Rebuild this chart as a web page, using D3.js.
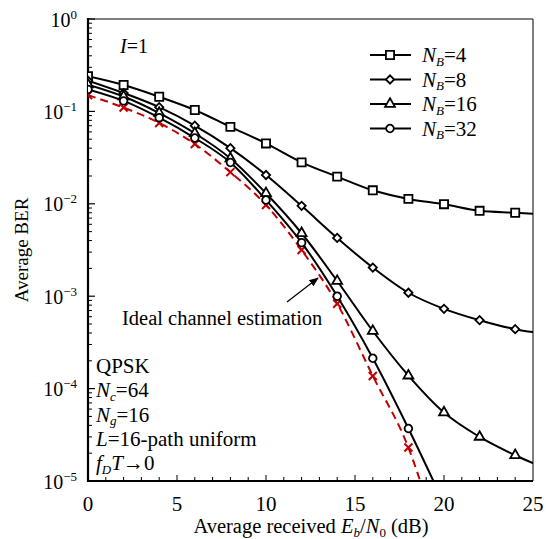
<!DOCTYPE html>
<html>
<head>
<meta charset="utf-8">
<script src="https://cdn.jsdelivr.net/npm/d3@7"></script>
<style>
  body { margin: 0; background: #fff; }
  svg text { font-family: "Liberation Serif", "Times New Roman", serif; fill: #000; }
</style>
</head>
<body>
<div id="chart"></div>
<script>
// Eb/N0 (dB) sample points
const snr = [0, 2, 4, 6, 8, 10, 12, 14, 16, 18, 20, 22, 24, 26];

// average BER per pilot spacing N_B
const nb4  = [0.24, 0.193, 0.144, 0.1035, 0.068, 0.045, 0.0281, 0.0197, 0.014, 0.0113, 0.0099, 0.0084, 0.0080, 0.0076];
const nb8  = [0.215, 0.158, 0.111, 0.070, 0.040, 0.0205, 0.0095, 0.00427, 0.00204, 0.00109, 0.00073, 0.00055, 0.00044, 0.000386];
const nb16 = [0.195, 0.145, 0.096, 0.058, 0.031, 0.013, 0.0048, 0.00146, 0.00042, 0.000138, 0.000055, 0.000030, 0.000019, 0.000013];
const nb32 = [0.173, 0.13, 0.0855, 0.0515, 0.028, 0.011, 0.0038, 0.001, 0.000213, 0.000037, 0.0000057];
const ideal = [0.15, 0.11, 0.075, 0.0444, 0.022, 0.0097, 0.00316, 0.00083, 0.000137, 0.000023, 0.0000014];

const seriesNames = ["4", "8", "16", "32"];
const xTicks = [0, 5, 10, 15, 20, 25];
const yExp = [0, -1, -2, -3, -4, -5];
const infoLines = ["QPSK", "Nc=64", "Ng=16", "L=16-path uniform", "fDT→0"];

const W = 546, H = 539;
const pLeft = 88, pRight = 533, pTop = 19, pBottom = 481;
const fs = 21, subFs = 13, subDy = 3.5;

const svg = d3.select("#chart").append("svg")
  .attr("width", W).attr("height", H);

const x = d3.scaleLinear().domain([0, 25]).range([pLeft, pRight]);
const y = d3.scaleLog().domain([1e-5, 1]).range([pBottom, pTop]);

const defs = svg.append("defs");
defs.append("clipPath").attr("id", "plot")
  .append("rect").attr("x", pLeft).attr("y", pTop)
  .attr("width", pRight - pLeft).attr("height", pBottom - pTop);

// frame: top/right grey, left/bottom black
svg.append("line").attr("x1", pLeft).attr("x2", pRight).attr("y1", pTop).attr("y2", pTop)
  .attr("stroke", "#555").attr("stroke-width", 1.5);
svg.append("line").attr("x1", pRight).attr("x2", pRight).attr("y1", pTop).attr("y2", pBottom)
  .attr("stroke", "#555").attr("stroke-width", 1.5);

// minor y ticks
let minorY = [];
for (let e = -5; e < 0; e++) for (let k = 2; k <= 9; k++) minorY.push(k * Math.pow(10, e));
svg.append("g").selectAll("line").data(minorY).enter().append("line")
  .attr("x1", pLeft).attr("x2", pLeft + 4)
  .attr("y1", d => y(d)).attr("y2", d => y(d))
  .attr("stroke", "#000").attr("stroke-width", 1);
svg.append("g").selectAll("line").data(yExp).enter().append("line")
  .attr("x1", pLeft).attr("x2", pLeft + 7)
  .attr("y1", d => y(Math.pow(10, d))).attr("y2", d => y(Math.pow(10, d)))
  .attr("stroke", "#000").attr("stroke-width", 1.2);

// x ticks every 1 dB
const xMinor = d3.range(1, 25);
svg.append("g").selectAll("line").data(xMinor).enter().append("line")
  .attr("x1", d => x(d)).attr("x2", d => x(d))
  .attr("y1", pBottom).attr("y2", d => d % 5 === 0 ? pBottom - 6 : pBottom - 4)
  .attr("stroke", "#000").attr("stroke-width", 1);

svg.append("line").attr("x1", pLeft).attr("x2", pLeft).attr("y1", pTop - 1).attr("y2", pBottom + 1)
  .attr("stroke", "#000").attr("stroke-width", 2.2);
svg.append("line").attr("x1", pLeft - 1).attr("x2", pRight).attr("y1", pBottom).attr("y2", pBottom)
  .attr("stroke", "#000").attr("stroke-width", 2.2);

// y labels 10^n
const yl = svg.append("g").selectAll("text").data(yExp).enter().append("text")
  .attr("x", pLeft - 11).attr("y", d => y(Math.pow(10, d)) + 7.5)
  .attr("text-anchor", "end").style("font-size", "20px");
yl.append("tspan").text("10");
yl.append("tspan").attr("dy", -8).style("font-size", "13px")
  .text(d => d === 0 ? "0" : "−" + (-d));

svg.append("g").selectAll("text").data(xTicks).enter().append("text")
  .attr("x", d => x(d)).attr("y", pBottom + 30)
  .attr("text-anchor", "middle").style("font-size", fs + "px")
  .text(d => d);

// axis titles
const xt = svg.append("text").attr("x", 311).attr("y", 533)
  .attr("text-anchor", "middle").style("font-size", "20.5px");
xt.append("tspan").text("Average received ");
xt.append("tspan").style("font-style", "italic").text("E");
xt.append("tspan").attr("dy", subDy).style("font-size", subFs + "px").style("font-style", "italic").text("b");
xt.append("tspan").attr("dy", -subDy).text("/");
xt.append("tspan").style("font-style", "italic").text("N");
xt.append("tspan").attr("dy", subDy).style("font-size", subFs + "px").text("0");
xt.append("tspan").attr("dy", -subDy).text(" (dB)");

svg.append("text").attr("transform", "translate(28," + 250 + ") rotate(-90)")
  .attr("text-anchor", "middle").style("font-size", "19px").text("Average BER");

// curves
const plot = svg.append("g").attr("clip-path", "url(#plot)");
const line = d3.line()
  .x((d, i) => x(snr[i])).y(d => y(d))
  .curve(d3.curveMonotoneX);

const allSeries = [nb4, nb8, nb16, nb32];
const shapes = [d3.symbolSquare, d3.symbolSquare, d3.symbolTriangle, d3.symbolCircle];
const sizes = [66, 34, 42, 46];
const rots = [0, 45, 0, 0];

plot.append("path").datum(ideal).attr("d", line)
  .attr("fill", "none").attr("stroke", "#c00000").attr("stroke-width", 2)
  .attr("stroke-dasharray", "8,5");
plot.append("g").selectAll("g").data(ideal).enter().append("g")
  .attr("transform", (d, i) => "translate(" + x(snr[i]) + "," + y(d) + ")")
  .call(g => {
    g.append("line").attr("x1", -4).attr("y1", -4).attr("x2", 4).attr("y2", 4);
    g.append("line").attr("x1", -4).attr("y1", 4).attr("x2", 4).attr("y2", -4);
  })
  .selectAll("line").attr("stroke", "#c00000").attr("stroke-width", 2);

allSeries.forEach((s, k) => {
  plot.append("path").datum(s).attr("d", line)
    .attr("fill", "none").attr("stroke", "#000").attr("stroke-width", 2);
  plot.append("g").selectAll("path").data(s).enter().append("path")
    .attr("transform", (d, i) => "translate(" + x(snr[i]) + "," + y(d) + ") rotate(" + rots[k] + ")")
    .attr("d", d3.symbol(shapes[k]).size(sizes[k]))
    .attr("fill", "#fff").attr("stroke", "#000").attr("stroke-width", 1.8);
});

// legend
const lg = svg.append("g").selectAll("g").data(seriesNames).enter().append("g")
  .attr("transform", (d, i) => "translate(370," + (55 + i * 24.5) + ")");
lg.append("line").attr("x1", 0).attr("x2", 41).attr("stroke", "#000").attr("stroke-width", 2);
lg.append("path").attr("transform", (d, i) => "translate(20,0) rotate(" + rots[i] + ")")
  .attr("d", (d, i) => d3.symbol(shapes[i]).size(sizes[i])())
  .attr("fill", "#fff").attr("stroke", "#000").attr("stroke-width", 1.8);
const lt = lg.append("text").attr("x", 52).attr("y", 7).style("font-size", fs + "px");
lt.append("tspan").style("font-style", "italic").text("N");
lt.append("tspan").attr("dy", subDy).style("font-size", subFs + "px").style("font-style", "italic").text("B");
lt.append("tspan").attr("dy", -subDy).text(d => "=" + d);

// I=1
const it = svg.append("text").attr("x", 120).attr("y", 53).style("font-size", "20px");
it.append("tspan").style("font-style", "italic").text("I");
it.append("tspan").text("=1");

// annotation
defs.append("marker").attr("id", "arr")
  .attr("viewBox", "0 0 10 10").attr("refX", 9).attr("refY", 5)
  .attr("markerWidth", 8).attr("markerHeight", 8).attr("orient", "auto")
  .append("path").attr("d", "M0,1 L10,5 L0,9 Z").attr("fill", "#000");
svg.append("line").attr("x1", 287).attr("y1", 302).attr("x2", 318).attr("y2", 278)
  .attr("stroke", "#000").attr("stroke-width", 1.2).attr("marker-end", "url(#arr)");
svg.append("text").attr("x", 122).attr("y", 325).style("font-size", "20.5px")
  .text("Ideal channel estimation");

// parameter block
const info = svg.append("g").selectAll("text").data(infoLines).enter().append("text")
  .attr("x", 96).attr("y", (d, i) => 373 + i * 24.3).style("font-size", fs + "px");
info.each(function(d) {
  const t = d3.select(this);
  if (d.startsWith("Nc") || d.startsWith("Ng")) {
    t.append("tspan").style("font-style", "italic").text("N");
    t.append("tspan").attr("dy", subDy).style("font-size", subFs + "px").style("font-style", "italic").text(d[1]);
    t.append("tspan").attr("dy", -subDy).text(d.slice(2));
  } else if (d.startsWith("L")) {
    t.append("tspan").style("font-style", "italic").text("L");
    t.append("tspan").text(d.slice(1));
  } else if (d.startsWith("fD")) {
    t.append("tspan").style("font-style", "italic").text("f");
    t.append("tspan").attr("dy", subDy).style("font-size", subFs + "px").style("font-style", "italic").text("D");
    t.append("tspan").attr("dy", -subDy).style("font-style", "italic").text("T");
    t.append("tspan").text(d.slice(3));
  } else {
    t.text(d);
  }
});
</script>
</body>
</html>
